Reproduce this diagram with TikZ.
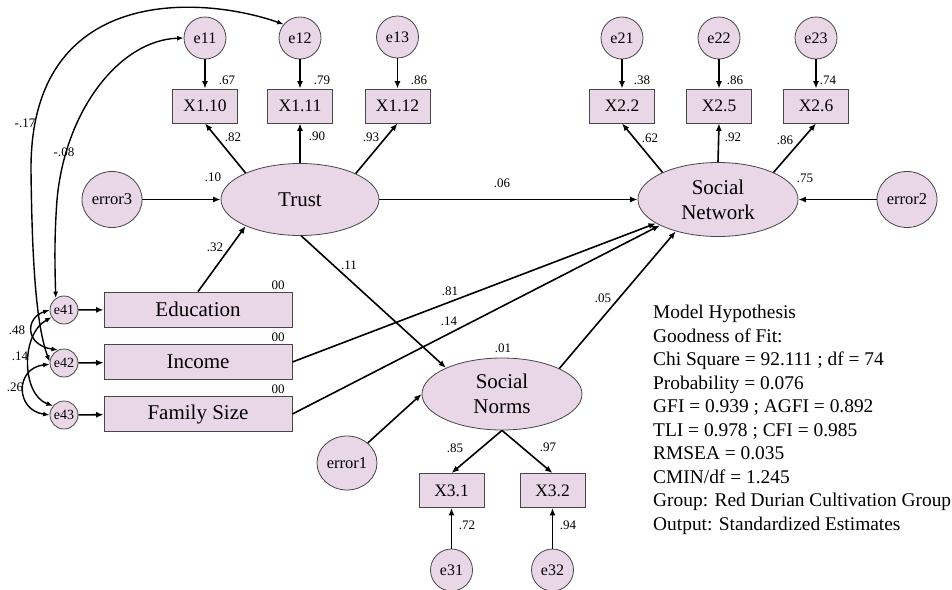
\documentclass[tikz,border=0pt]{standalone}
\usepackage{fontspec}
\setmainfont{Liberation Serif}
\newfontfamily\tnr{Liberation Serif}
\usetikzlibrary{shapes.geometric,arrows.meta}
\definecolor{nodefill}{RGB}{233,215,232}
\definecolor{nodedraw}{RGB}{70,70,70}
\newcommand\setfs[1]{\tnr\fontsize{#1}{#1}\selectfont}
\begin{document}
\begin{tikzpicture}[x=1pt,y=-1pt,
  latent/.style={ellipse, draw=nodedraw, fill=nodefill, line width=0.8pt, inner sep=0pt,
    minimum width=158pt, minimum height=72pt, align=center, font=\tnr\fontsize{21}{25}\selectfont},
  obs/.style={rectangle, draw=nodedraw, fill=nodefill, line width=0.8pt, inner sep=0pt,
    minimum width=65pt, minimum height=34pt, font=\setfs{17.5}},
  wide/.style={rectangle, draw=nodedraw, fill=nodefill, line width=0.8pt, inner sep=0pt,
    minimum width=188pt, minimum height=35pt, font=\setfs{21}},
  errc/.style={circle, draw=nodedraw, fill=nodefill, line width=0.8pt, inner sep=0pt,
    minimum size=42pt, font=\setfs{16}},
  errs/.style={circle, draw=nodedraw, fill=nodefill, line width=0.8pt, inner sep=0pt,
    minimum size=28pt, font=\setfs{14}},
  erre/.style={ellipse, draw=nodedraw, fill=nodefill, line width=0.8pt, inner sep=0pt,
    minimum width=60pt, minimum height=56pt, font=\setfs{16.5}},
  num/.style={inner sep=0pt, font=\setfs{13}},
  pth/.style={-{Latex[length=7.5pt,width=6pt]}, line width=1.6pt},
  cov/.style={{Latex[length=6.5pt,width=5pt]}-{Latex[length=6.5pt,width=5pt]}, line width=1.4pt}
]
\useasboundingbox (0,0) rectangle (952,589);

% latent variables
\node[latent] (trust) at (300,199.5) {Trust};
\node[latent, minimum width=160pt, minimum height=74pt] (socnet) at (718,199.5) {Social\\Network};
\node[latent, minimum width=160pt] (socnorm) at (502,394) {Social\\Norms};

% indicators
\node[obs] (x110) at (205,106) {X1.10};
\node[obs] (x111) at (300,106) {X1.11};
\node[obs] (x112) at (397.5,106) {X1.12};
\node[obs] (x22) at (622,106) {X2.2};
\node[obs] (x25) at (719,106) {X2.5};
\node[obs] (x26) at (816,106) {X2.6};
\node[obs] (x31) at (451.5,490.5) {X3.1};
\node[obs] (x32) at (552.5,490.5) {X3.2};

% error circles
\node[errc] (e11) at (205,38) {e11};
\node[errc] (e12) at (300,38) {e12};
\node[errc] (e13) at (397.5,37) {e13};
\node[errc] (e21) at (622,38) {e21};
\node[errc] (e22) at (719,38) {e22};
\node[errc] (e23) at (816,38) {e23};
\node[errc] (e31) at (451.5,570) {e31};
\node[errc] (e32) at (552.5,570) {e32};
\node[erre] (error3) at (112,199.5) {error3};
\node[erre] (error2) at (907,199.5) {error2};
\node[erre, minimum height=54pt] (error1) at (347,463) {error1};

% exogenous observed
\node[wide] (edu) at (198,309.5) {Education};
\node[wide] (inc) at (198,362) {Income};
\node[wide] (fam) at (198,414) {Family Size};
\node[errs] (e41) at (64,310) {e41};
\node[errs] (e42) at (64,363) {e42};
\node[errs] (e43) at (64,415) {e43};

% measurement paths
\draw[pth] (e11) -- (x110);
\draw[pth] (e12) -- (x111);
\draw[pth] (e13) -- (x112);
\draw[pth] (e21) -- (x22);
\draw[pth] (e22) -- (x25);
\draw[pth] (e23) -- (x26);
\draw[pth] (e31) -- (x31);
\draw[pth] (e32) -- (x32);
\draw[pth] (trust.154) -- (x110.south);
\draw[pth] (trust.north) -- (x111.south);
\draw[pth] (trust.25) -- (x112.south);
\draw[pth] (socnet.154) -- (x22.south);
\draw[pth] (socnet.north) -- (x25.south);
\draw[pth] (socnet.26) -- (x26.south);
\draw[pth] (socnorm.south) -- (x31.north);
\draw[pth] (socnorm.south) -- (x32.north);

% structural paths
\draw[pth] (error3) -- (trust);
\draw[pth] (error2) -- (socnet);
\draw[pth] (error1.44) -- (socnorm.west);
\draw[pth] (edu.north) -- (trust.206);
\draw[pth] (trust) -- (socnet);
\draw[pth] (trust.-88) -- (socnorm.155);
\draw[pth] (socnorm.24) -- (socnet.217);
\draw[pth] (inc.east) -- (socnet.201);
\draw[pth] (fam.east) -- (socnet.204);
\draw[pth] (e41) -- (edu);
\draw[pth] (e42) -- (inc);
\draw[pth] (e43) -- (fam);

% covariances
\draw[cov] (e12.140) .. controls (200,-5) and (30,-15) .. (31,170) .. controls (32,260) and (36,325) .. (e42.175);
\draw[cov] (e11.west) .. controls (120,40) and (65,110) .. (57,200) .. controls (54,240) and (55,270) .. (e41.125);
\draw[cov] (e41.180) .. controls (25,318) and (25,345) .. (e42.115);
\draw[cov] (e41.210) .. controls (20,335) and (22,395) .. (e43.140);
\draw[cov] (e42.185) .. controls (15,368) and (15,410) .. (e43.180);

% estimates
\node[num] (l1) at (227,80) {.67};
\node[num] (l2) at (322,80) {.79};
\node[num] (l3) at (419,80) {.86};
\node[num] (l4) at (233,137) {.82};
\node[num] (l5) at (317,136) {.90};
\node[num] (l6) at (371,137) {.93};
\node[num] (l7) at (213,177) {.10};
\node[num] (l8) at (215,247) {.32};
\node[num] (l9) at (349,265) {.11};
\node[num] (l10) at (502,183) {.06};
\node[num] (l11) at (642,80) {.38};
\node[num] (l12) at (735,80) {.86};
\node[num] (l13) at (828,80) {.74};
\node[num] (l14) at (650,138) {.62};
\node[num] (l15) at (733,137) {.92};
\node[num] (l16) at (785,140) {.86};
\node[num] (l17) at (805,178) {.75};
\node[num] (l18) at (278,285) {00};
\node[num] (l19) at (278,337) {00};
\node[num] (l20) at (278,389) {00};
\node[num] (l21) at (450,291) {.81};
\node[num] (l22) at (449,321) {.14};
\node[num] (l23) at (603,298) {.05};
\node[num] (l24) at (503,348) {.01};
\node[num] (l25) at (455,448) {.85};
\node[num] (l26) at (548,447) {.97};
\node[num] (l27) at (467,525) {.72};
\node[num] (l28) at (568,525) {.94};
\node[num] (l29) at (25,123) {-.17};
\node[num] (l30) at (64,152) {-.08};
\node[num] (l31) at (17,330) {.48};
\node[num] (l32) at (20,356) {.14};
\node[num] (l33) at (15,387) {.26};

% fit summary
\node[anchor=north west, inner sep=0pt, align=left, font=\tnr\fontsize{19.4}{23.5}\selectfont] (fit) at (653,305) {Model Hypothesis\\Goodness of Fit:\\Chi Square = 92.111 ; df = 74\\Probability = 0.076\\GFI = 0.939 ; AGFI = 0.892\\TLI = 0.978 ; CFI = 0.985\\RMSEA = 0.035\\CMIN/df = 1.245\\Group: Red Durian Cultivation Group\\Output: Standardized Estimates};
\end{tikzpicture}
\end{document}
